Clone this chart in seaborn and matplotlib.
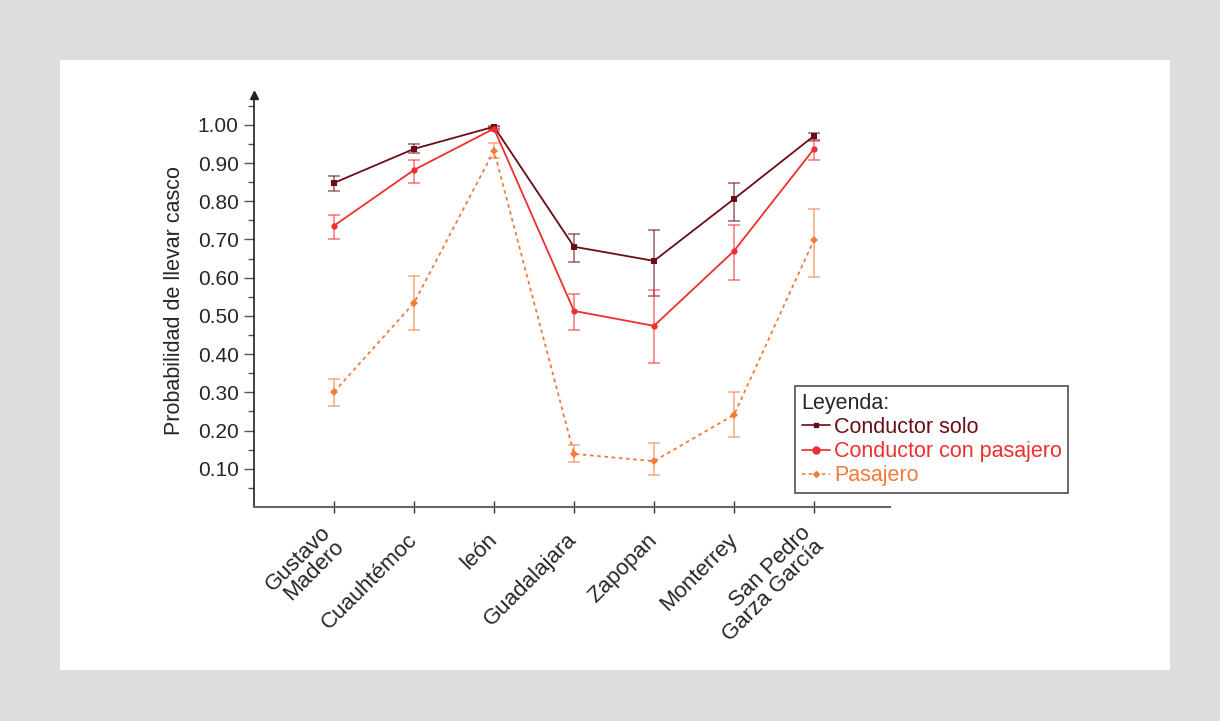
import numpy as np
import pandas as pd
import matplotlib
matplotlib.use("Agg")
import matplotlib.pyplot as plt
import matplotlib.transforms as mtransforms
import seaborn as sns
from matplotlib.lines import Line2D

# Data
ciudades = ["Gustavo\nMadero", "Cuauhtémoc", "león", "Guadalajara",
            "Zapopan", "Monterrey", "San Pedro\nGarza García"]

solo = [0.848, 0.937, 0.995, 0.681, 0.644, 0.806, 0.971]
solo_lo = [0.828, 0.927, 0.990, 0.641, 0.552, 0.749, 0.961]
solo_hi = [0.866, 0.950, 0.998, 0.715, 0.725, 0.848, 0.979]

con_pas = [0.736, 0.882, 0.990, 0.513, 0.474, 0.670, 0.937]
con_pas_lo = [0.702, 0.848, 0.985, 0.463, 0.377, 0.594, 0.908]
con_pas_hi = [0.764, 0.908, 0.995, 0.558, 0.568, 0.738, 0.958]

pasajero = [0.301, 0.534, 0.932, 0.139, 0.120, 0.241, 0.699]
pas_lo = [0.264, 0.463, 0.914, 0.118, 0.084, 0.183, 0.602]
pas_hi = [0.335, 0.605, 0.953, 0.162, 0.168, 0.301, 0.780]

series = ["Conductor solo", "Conductor con pasajero", "Pasajero"]
colores = {"Conductor solo": "#6b0d16",
           "Conductor con pasajero": "#ee2f2f",
           "Pasajero": "#f47a3a"}

sns.set_theme(style="white")
plt.rcParams['font.family'] = ['Liberation Sans', 'DejaVu Sans']

rows = []
for nombre, vals in zip(series, [solo, con_pas, pasajero]):
    for i, v in enumerate(vals):
        rows.append({"x": i, "ciudad": ciudades[i], "serie": nombre, "p": v})
df = pd.DataFrame(rows)

fig = plt.figure(figsize=(12.2, 7.21), dpi=100)
fig.patch.set_facecolor("#dcdddf")
# white panel
fig.add_artist(plt.Rectangle((60 / 1220, 1 - 670 / 721), 1110 / 1220, 610 / 721,
                             transform=fig.transFigure, facecolor="white",
                             edgecolor="none", zorder=0))

ax = fig.add_axes([254 / 1220, 1 - 507 / 721, 636 / 1220, 412 / 721])
ax.set_facecolor("none")

# error bars first, lines on top
errs = {"Conductor solo": (solo, solo_lo, solo_hi),
        "Conductor con pasajero": (con_pas, con_pas_lo, con_pas_hi),
        "Pasajero": (pasajero, pas_lo, pas_hi)}
for nombre in series:
    v, lo, hi = (np.array(a) for a in errs[nombre])
    ax.errorbar(np.arange(len(v)), v, yerr=[v - lo, hi - v], fmt="none",
                ecolor=colores[nombre], alpha=0.6, elinewidth=1.2,
                capsize=4, capthick=1.2, zorder=2)

sns.lineplot(data=df, x="x", y="p", hue="serie", style="serie",
             palette=colores, hue_order=series, style_order=series,
             markers={"Conductor solo": "s", "Conductor con pasajero": "o",
                      "Pasajero": "D"},
             dashes={"Conductor solo": "", "Conductor con pasajero": "",
                     "Pasajero": (2, 2)},
             markersize=4.5, markeredgewidth=0, linewidth=1.3,
             legend=False, ax=ax, zorder=3)

ax.set_xlim(-1, 6.95)
ax.set_ylim(0, 1.078)
ax.set_xticks(range(len(ciudades)))
ax.set_xticklabels(ciudades, rotation=45, ha="right", va="center",
                   rotation_mode="anchor", fontsize=16, linespacing=0.9)
# nudge labels slightly right of their ticks
shift = mtransforms.ScaledTranslation(0.09, 0, fig.dpi_scale_trans)
for lab in ax.get_xticklabels():
    lab.set_transform(lab.get_transform() + shift)
ax.set_yticks(np.arange(0.1, 1.01, 0.1))
ax.set_yticklabels([f"{t:.2f}" for t in np.arange(0.1, 1.01, 0.1)], fontsize=15)
ax.set_yticks(np.arange(0.05, 1.06, 0.1), minor=True)
ax.tick_params(axis="y", which="major", direction="out", length=7, width=1,
               color="#555555", left=True, pad=4)
ax.tick_params(axis="y", which="minor", direction="out", length=4, width=1,
               color="#555555", left=True)
ax.tick_params(axis="x", which="major", direction="inout", length=8, width=1,
               color="#333333", bottom=True, pad=17.5)
ax.set_xlabel("")
ax.set_ylabel("Probabilidad de llevar casco", fontsize=15.5, labelpad=9)

for s in ["top", "right"]:
    ax.spines[s].set_visible(False)
ax.spines["left"].set_color("#222222")
ax.spines["bottom"].set_color("#666666")
ax.spines["left"].set_linewidth(1.2)
ax.spines["bottom"].set_linewidth(1.5)
# arrow at the top of the y axis
ax.plot(0, 1, marker="^", markersize=6, color="#222222",
        transform=ax.transAxes, clip_on=False)

handles = [Line2D([0], [0], color=colores["Conductor solo"], marker="s",
                  markersize=3, lw=1.2),
           Line2D([0], [0], color=colores["Conductor con pasajero"], marker="o",
                  markersize=5, lw=1.2),
           Line2D([0], [0], color=colores["Pasajero"], marker="D",
                  markersize=3, lw=1.2, ls=(0, (2, 2)))]
leg = ax.legend(handles, series, title="Leyenda:", loc="upper left",
                bbox_to_anchor=(0.851, 0.293), fontsize=15.5, title_fontsize=15.5,
                frameon=True, fancybox=False, edgecolor="#222222",
                handlelength=1.3, handletextpad=0.2, borderpad=0.3,
                labelspacing=0.15, borderaxespad=0)
leg._legend_box.align = "left"
leg.get_frame().set_linewidth(1.2)
for txt, nombre in zip(leg.get_texts(), series):
    txt.set_color(colores[nombre])

fig.savefig("out.png", dpi=100, facecolor=fig.get_facecolor())
